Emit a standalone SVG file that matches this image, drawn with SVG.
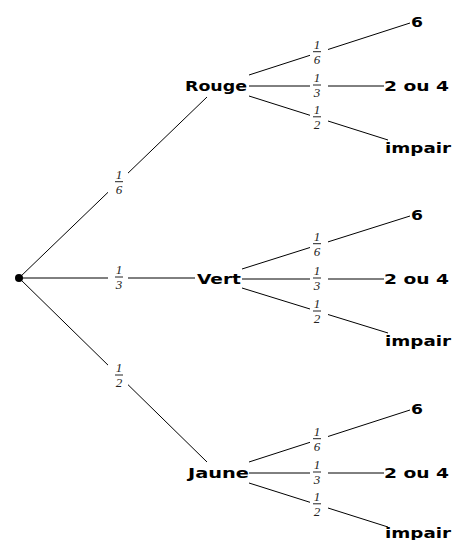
<svg xmlns="http://www.w3.org/2000/svg" width="452" height="540" viewBox="0 0 452 540">
<style>
.e{stroke:#000;stroke-width:1;fill:none}
.n{font-family:"DejaVu Sans","Verdana",sans-serif;font-weight:bold;font-size:14px;fill:#000}
.f{font-family:"Liberation Serif",serif;font-style:italic;font-size:13px;fill:#222;text-anchor:middle}
.b{stroke:#222;stroke-width:1}
</style>
<rect width="452" height="540" fill="#fff"/>
<g id="connectors">
<line class="e" x1="19" y1="278" x2="108" y2="192.3"/>
<line class="e" x1="128" y1="173.1" x2="207" y2="97"/>
<line class="e" x1="19" y1="278" x2="108" y2="278"/>
<line class="e" x1="128" y1="278" x2="195" y2="278"/>
<line class="e" x1="19" y1="278" x2="108" y2="365.1"/>
<line class="e" x1="128" y1="384.7" x2="207" y2="462"/>
<!-- Rouge -->
<line class="e" x1="249" y1="75" x2="310" y2="55.3"/>
<line class="e" x1="328" y1="49.5" x2="410" y2="23"/>
<line class="e" x1="249" y1="86" x2="310" y2="86"/>
<line class="e" x1="328" y1="86" x2="384" y2="86"/>
<line class="e" x1="249" y1="96" x2="310" y2="115.3"/>
<line class="e" x1="328" y1="121" x2="388" y2="140"/>
<!-- Vert -->
<line class="e" x1="242" y1="269" x2="310" y2="247.5"/>
<line class="e" x1="328" y1="241.9" x2="410" y2="216"/>
<line class="e" x1="242" y1="279" x2="310" y2="279"/>
<line class="e" x1="328" y1="279" x2="384" y2="279"/>
<line class="e" x1="242" y1="288" x2="310" y2="309"/>
<line class="e" x1="328" y1="314.5" x2="388" y2="333"/>
<!-- Jaune -->
<line class="e" x1="249" y1="462" x2="310" y2="442.3"/>
<line class="e" x1="328" y1="436.5" x2="410" y2="410"/>
<line class="e" x1="249" y1="473" x2="310" y2="473"/>
<line class="e" x1="328" y1="473" x2="384" y2="473"/>
<line class="e" x1="249" y1="483" x2="310" y2="502.3"/>
<line class="e" x1="328" y1="508" x2="388" y2="527"/>
<g id="labels">
<text class="f" x="119" y="178.7">1</text><line class="b" x1="115" y1="181.7" x2="123" y2="181.7"/><text class="f" x="119" y="193.7">6</text>
<text class="f" x="119" y="274">1</text><line class="b" x1="115" y1="277" x2="123" y2="277"/><text class="f" x="119" y="289">3</text>
<text class="f" x="119" y="372">1</text><line class="b" x1="115" y1="375" x2="123" y2="375"/><text class="f" x="119" y="387">2</text>

<text class="f" x="317" y="48.7">1</text><line class="b" x1="313" y1="51.7" x2="321" y2="51.7"/><text class="f" x="317" y="63.7">6</text>
<text class="f" x="317" y="82">1</text><line class="b" x1="313" y1="85" x2="321" y2="85"/><text class="f" x="317" y="97">3</text>
<text class="f" x="317" y="113.8">1</text><line class="b" x1="313" y1="116.8" x2="321" y2="116.8"/><text class="f" x="317" y="128.8">2</text>

<text class="f" x="317" y="240.7">1</text><line class="b" x1="313" y1="243.7" x2="321" y2="243.7"/><text class="f" x="317" y="255.7">6</text>
<text class="f" x="317" y="275">1</text><line class="b" x1="313" y1="278" x2="321" y2="278"/><text class="f" x="317" y="290">3</text>
<text class="f" x="317" y="308">1</text><line class="b" x1="313" y1="311" x2="321" y2="311"/><text class="f" x="317" y="323">2</text>

<text class="f" x="317" y="435.7">1</text><line class="b" x1="313" y1="438.7" x2="321" y2="438.7"/><text class="f" x="317" y="450.7">6</text>
<text class="f" x="317" y="469">1</text><line class="b" x1="313" y1="472" x2="321" y2="472"/><text class="f" x="317" y="484">3</text>
<text class="f" x="317" y="500.8">1</text><line class="b" x1="313" y1="503.8" x2="321" y2="503.8"/><text class="f" x="317" y="515.8">2</text>
</g>
</g>
<g id="root"><circle cx="19" cy="278" r="4" fill="#000"/></g>
<g id="rouge"><text class="n" x="185" y="91" textLength="62" lengthAdjust="spacingAndGlyphs">Rouge</text></g>
<g id="vert"><text class="n" x="197" y="284" textLength="44" lengthAdjust="spacingAndGlyphs">Vert</text></g>
<g id="jaune"><text class="n" x="188" y="478" textLength="61" lengthAdjust="spacingAndGlyphs">Jaune</text></g>
<g id="rouge-6"><text class="n" x="411" y="27" textLength="12" lengthAdjust="spacingAndGlyphs">6</text></g>
<g id="rouge-24"><text class="n" x="384" y="91" textLength="65" lengthAdjust="spacingAndGlyphs">2 ou 4</text></g>
<g id="rouge-impair"><text class="n" x="385" y="153" textLength="66" lengthAdjust="spacingAndGlyphs">impair</text></g>
<g id="vert-6"><text class="n" x="411" y="220" textLength="12" lengthAdjust="spacingAndGlyphs">6</text></g>
<g id="vert-24"><text class="n" x="384" y="284" textLength="65" lengthAdjust="spacingAndGlyphs">2 ou 4</text></g>
<g id="vert-impair"><text class="n" x="385" y="346" textLength="66" lengthAdjust="spacingAndGlyphs">impair</text></g>
<g id="jaune-6"><text class="n" x="411" y="414" textLength="12" lengthAdjust="spacingAndGlyphs">6</text></g>
<g id="jaune-24"><text class="n" x="384" y="478" textLength="65" lengthAdjust="spacingAndGlyphs">2 ou 4</text></g>
<g id="jaune-impair"><text class="n" x="385" y="538" textLength="66" lengthAdjust="spacingAndGlyphs">impair</text></g>
</svg>
